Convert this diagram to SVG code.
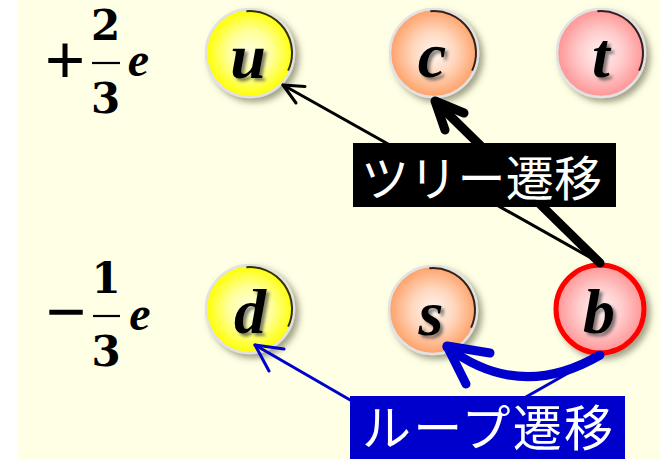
<svg xmlns="http://www.w3.org/2000/svg" width="660" height="459" viewBox="0 0 660 459">
  <defs>
    <radialGradient id="fillYellow" cx="0.5" cy="0.5" r="0.5">
      <stop offset="0" stop-color="#ffffe6"/>
      <stop offset="0.5" stop-color="#ffff9a"/>
      <stop offset="1" stop-color="#ffff00"/>
    </radialGradient>
    <radialGradient id="fillOrange" cx="0.5" cy="0.5" r="0.5">
      <stop offset="0" stop-color="#fff6f0"/>
      <stop offset="0.5" stop-color="#ffd6bc"/>
      <stop offset="1" stop-color="#ffa066"/>
    </radialGradient>
    <radialGradient id="fillPink" cx="0.5" cy="0.5" r="0.5">
      <stop offset="0" stop-color="#fff2f2"/>
      <stop offset="0.5" stop-color="#ffcccc"/>
      <stop offset="1" stop-color="#ff9494"/>
    </radialGradient>
    <filter id="ballShadow" x="-30%" y="-30%" width="170%" height="170%">
      <feDropShadow dx="4" dy="4" stdDeviation="3" flood-color="#55553a" flood-opacity="0.55"/>
    </filter>
    <filter id="glyphShadow" x="-30%" y="-30%" width="170%" height="170%">
      <feDropShadow dx="3" dy="3" stdDeviation="1.6" flood-color="#333333" flood-opacity="0.6"/>
    </filter>
  </defs>
  <style>
    .ball { stroke: #e2e2e2; stroke-width: 2.5; filter: url(#ballShadow); }
    .rim { fill: none; stroke: #000; stroke-width: 2; opacity: 0.8; }
    .flavour { font-family: "Liberation Serif", "DejaVu Serif", serif; font-weight: bold; font-style: italic; font-size: 64px; text-anchor: middle; fill: #000; filter: url(#glyphShadow); }
    .math { font-family: "Liberation Serif", "DejaVu Serif", serif; font-weight: bold; fill: #000; text-anchor: middle; }
    .digit { font-family: "DejaVu Serif", "Liberation Serif", serif; font-size: 42px; }
    .sign { font-size: 72px; }
    .ee { font-size: 48px; font-style: italic; }
    .bar { stroke: #000; stroke-width: 2.2; }
    .tag { font-family: "Noto Sans CJK JP", "Noto Sans CJK SC", sans-serif; fill: #fff; }
    .thin { fill: none; stroke-width: 3; stroke-linecap: round; stroke-linejoin: round; }
    .thick { fill: none; stroke-width: 9; stroke-linecap: round; stroke-linejoin: round; }
  </style>

  <!-- backdrop -->
  <rect x="0" y="0" width="660" height="459" fill="#ffffff"/>
  <rect x="18" y="0" width="642" height="459" fill="#ffffe6"/>

  <!-- charge labels -->
  <g id="charge-up">
    <text class="math sign" x="65" y="84">+</text>
    <text class="math digit" x="105.5" y="40">2</text>
    <line class="bar" x1="92" y1="63" x2="120" y2="63"/>
    <text class="math digit" x="105.5" y="113">3</text>
    <text class="math ee" x="138.5" y="76">e</text>
  </g>
  <g id="charge-down">
    <text class="math sign" x="66" y="336">−</text>
    <text class="math digit" x="106" y="293">1</text>
    <line class="bar" x1="93" y1="316" x2="120" y2="316"/>
    <text class="math digit" x="106" y="366">3</text>
    <text class="math ee" x="140" y="330">e</text>
  </g>

  <!-- quarks -->
  <g id="node-u" transform="translate(250,53)">
    <circle class="ball" r="44" fill="url(#fillYellow)"/>
    <path class="rim" d="M-3.7 -41.8 A42 42 0 0 1 38.1 17.7"/>
    <text class="flavour" x="-2" y="25">u</text>
  </g>
  <g id="node-c" transform="translate(434,53)">
    <circle class="ball" r="44" fill="url(#fillOrange)"/>
    <path class="rim" d="M-3.7 -41.8 A42 42 0 0 1 38.1 17.7"/>
    <text class="flavour" x="-2" y="24">c</text>
  </g>
  <g id="node-t" transform="translate(601,53)">
    <circle class="ball" r="44" fill="url(#fillPink)"/>
    <path class="rim" d="M-3.7 -41.8 A42 42 0 0 1 38.1 17.7"/>
    <text class="flavour" x="0" y="24">t</text>
  </g>
  <g id="node-d" transform="translate(250,309)">
    <circle class="ball" r="44" fill="url(#fillYellow)"/>
    <path class="rim" d="M-3.7 -41.8 A42 42 0 0 1 38.1 17.7"/>
    <text class="flavour" x="0" y="24">d</text>
  </g>
  <g id="node-s" transform="translate(433,310)">
    <circle class="ball" r="44" fill="url(#fillOrange)"/>
    <path class="rim" d="M-3.7 -41.8 A42 42 0 0 1 38.1 17.7"/>
    <text class="flavour" x="-2" y="25">s</text>
  </g>
  <g id="node-b" transform="translate(600,309)">
    <circle r="44" fill="url(#fillPink)" stroke="#ff0000" stroke-width="5" filter="url(#ballShadow)"/>
    <text class="flavour" x="-1" y="24">b</text>
  </g>

  <!-- transitions, drawn over the quarks so the heads stay visible -->
  <g id="connectors">
    <!-- tree transition b -> u (thin) -->
    <path class="thin" stroke="#000" d="M600 263 L283 85"/>
    <path class="thin" stroke="#000" d="M305 86.5 L283 85 L296 103"/>
    <!-- tree transition b -> c (thick) -->
    <path class="thick" stroke="#000" stroke-width="8" d="M600 263 L436 102"/>
    <path class="thick" stroke="#000" d="M445 130 L435 101 L464 113"/>
    <!-- loop transition b -> d (thin), bend hidden under the label -->
    <path class="thin" stroke="#0000cc" d="M600 355 L510 406 L364 408 L255 345"/>
    <path class="thin" stroke="#0000cc" d="M284 349 L255 345 L269 371"/>
    <!-- loop transition b -> s (thick) -->
    <path class="thick" stroke="#0000cc" d="M600 355 Q520 402 447 347"/>
    <path class="thick" stroke="#0000cc" d="M490 353 L447 346 L466 384"/>
  </g>

  <!-- transition labels -->
  <g id="label-tree">
    <rect x="353" y="143" width="263" height="64" fill="#000"/>
    <text class="tag" x="361" y="196" font-size="48" textLength="241" lengthAdjust="spacing">ツリー遷移</text>
  </g>
  <g id="label-loop">
    <rect x="350" y="396" width="275" height="63" fill="#0000cc"/>
    <text class="tag" x="362" y="446" font-size="49" textLength="251" lengthAdjust="spacing">ループ遷移</text>
  </g>
</svg>
